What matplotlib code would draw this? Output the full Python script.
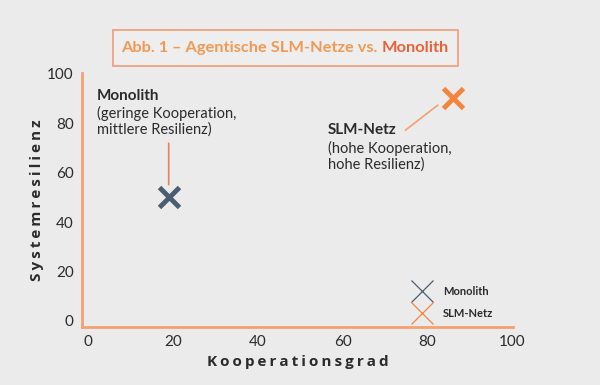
import matplotlib.pyplot as plt
from matplotlib.patches import Rectangle

# Daten
namen = ["Monolith", "SLM-Netz"]
kooperation = [19, 86]
resilienz = [50, 90]
farben = ["#4b5d70", "#f5843f"]
ticks = [0, 20, 40, 60, 80, 100]

bg = "#ebebeb"
achse = "#f5a070"
dunkel = "#2b2b2b"

plt.rcParams['font.family'] = ['Lato', 'DejaVu Sans']

fig = plt.figure(figsize=(6, 3.85), dpi=100, facecolor=bg)
ax = fig.add_axes([0.137, 0.151, 0.718, 0.66], facecolor=bg)

ax.set_xlim(-1.4, 100.2)
ax.set_ylim(-2.4, 100.4)
ax.set_xticks(ticks)
ax.set_yticks(ticks)
ax.tick_params(length=0, labelsize=11, colors=dunkel, pad=6)
for s in ["top", "right"]:
    ax.spines[s].set_visible(False)
for s in ["left", "bottom"]:
    ax.spines[s].set_color(achse)
    ax.spines[s].set_linewidth(2)

# Punkte
for n, x, y, c in zip(namen, kooperation, resilienz, farben):
    ax.plot(x, y, marker="x", ms=14, mew=3.5, color=c, ls="none")
    # Legende (dünne Kreuze)
    ax.plot([], [], marker="x", ms=16, mew=0.9, color=c, ls="none", label=n)

leg = ax.legend(loc="lower right", bbox_to_anchor=(0.972, 0.0), frameon=False,
                prop={"weight": "bold", "size": 8}, handletextpad=0.9,
                labelspacing=1.0, borderaxespad=0.3)
for t in leg.get_texts():
    t.set_color(dunkel)

# Beschriftungen
ax.text(2.1, 94, "Monolith", fontsize=11, fontweight="bold", color=dunkel, va="top")
ax.text(2.1, 87, "(geringe Kooperation,\nmittlere Resilienz)", fontsize=10.5,
        color=dunkel, va="top", linespacing=1.15)
ax.annotate("", xy=(kooperation[0], 54), xytext=(kooperation[0], 73),
            arrowprops=dict(arrowstyle="-", color="#e8805a", lw=1.2))

ax.text(56.6, 80, "SLM-Netz", fontsize=11, fontweight="bold", color=dunkel, va="top")
ax.text(56.6, 73, "(hohe Kooperation,\nhohe Resilienz)", fontsize=10.5,
        color=dunkel, va="top", linespacing=1.15)
ax.annotate("", xy=(83, 88), xytext=(74.3, 76.5),
            arrowprops=dict(arrowstyle="-", color="#f5a070", lw=1.2))

sp = "\u2009"
ax.set_xlabel(sp.join("Kooperationsgrad"), fontsize=11, fontweight="bold",
              color=dunkel, labelpad=4, family=["Open Sans", "DejaVu Sans"])
ax.set_ylabel(sp.join("Systemresilienz"), fontsize=11, fontweight="bold",
              color=dunkel, labelpad=2, family=["Open Sans", "DejaVu Sans"])

# Titel in zwei Farben mit Rahmen
fig.canvas.draw()
r = fig.canvas.get_renderer()
t1 = fig.text(121 / 600, 1 - 48 / 385, "Abb. 1 \u2013 Agentische SLM-Netze vs. ",
              fontsize=11.8, fontweight="bold", color="#f29a55", va="center")
bb = t1.get_window_extent(r)
t2 = fig.text(bb.x1 / 600, 1 - 48 / 385, "Monolith", fontsize=11.8,
              fontweight="bold", color="#e8623a", va="center")
bb2 = t2.get_window_extent(r)
x0 = 113 / 600
x1 = (bb2.x1 + 9) / 600
fig.patches.append(Rectangle((x0, 1 - 66 / 385), x1 - x0, 36 / 385,
                             transform=fig.transFigure, fill=True, facecolor="#eeeeee",
                             edgecolor="#f2a080", lw=1.3, zorder=-1))

fig.savefig("out.png", dpi=100, facecolor=bg)
